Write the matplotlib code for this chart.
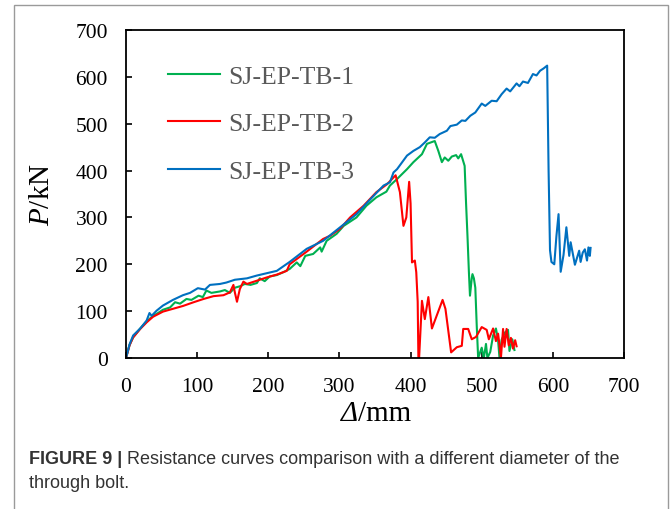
import matplotlib
matplotlib.use("Agg")
import matplotlib.pyplot as plt
from matplotlib.patches import Rectangle

# ===========================
# Data
# ===========================
SERIES_NAMES = ["SJ-EP-TB-1", "SJ-EP-TB-2", "SJ-EP-TB-3"]
SERIES_COLORS = ["#00B050", "#FF0000", "#0070C0"]

d_tb1 = [0, 5, 10, 20, 29, 38, 45, 52, 62, 69, 76, 85, 92, 102, 108, 113, 120, 132,
         139, 146, 153, 160, 167, 175, 184, 188, 195, 202, 212, 221, 230, 240, 245,
         252, 263, 273, 275, 282, 296, 306, 324, 338, 352, 366, 371, 381, 395, 404,
         416, 423, 432, 434, 439, 444, 448, 453, 458, 464, 467, 471, 473, 476, 478,
         480, 482, 483.5, 486, 487, 489, 491, 493, 495, 500, 503, 506, 508, 512, 516,
         520, 523, 525, 528, 533, 537, 539, 543, 546]
p_tb1 = [0, 28, 44, 63, 78, 90, 96, 103, 108, 119, 116, 126, 124, 133, 130, 144, 139, 142,
         145, 139, 150, 153, 158, 156, 160, 170, 164, 174, 177, 183, 190, 204, 196,
         218, 222, 236, 227, 250, 265, 282, 300, 325, 343, 355, 368, 382, 403, 418,
         435, 457, 462, 463, 442, 418, 428, 421, 430, 433, 426, 435, 425, 410, 330,
         260, 183, 133, 170, 179, 170, 150, 69, 0, 22, 0, 30, 0, 13, 48,
         63, 38, 0, 39, 55, 60, 15, 40, 17]

d_tb2 = [0, 5, 10, 20, 29, 38, 52, 66, 80, 95, 109, 123, 137, 146, 151, 153, 156, 160,
         165, 170, 184, 198, 212, 226, 230, 254, 277, 287, 301, 315, 334, 352, 367,
         379, 385, 390, 394, 398, 400, 402, 406, 408, 410, 411, 412, 416, 420, 425,
         430, 445, 449, 457, 465, 472, 474, 481, 486, 492, 500, 507, 510, 516, 520,
         523, 525, 527, 530, 532, 535, 538, 541, 544, 547, 549]
p_tb2 = [0, 27, 44, 62, 76, 88, 99, 105, 111, 119, 126, 132, 134, 140, 156, 140, 120, 147,
         163, 158, 165, 172, 178, 186, 200, 227, 254, 261, 276, 300, 325, 354, 371,
         390, 354, 282, 300, 376, 330, 204, 208, 183, 120, 0, 0, 122, 83, 130,
         63, 124, 105, 12, 23, 26, 62, 62, 40, 45, 66, 60, 40, 63, 36,
         52, 28, 0, 62, 24, 62, 27, 43, 20, 38, 25]

d_tb3 = [0, 5, 10, 20, 29, 33, 36, 43, 52, 66, 80, 90, 101, 111, 118, 132, 141, 153,
         170, 184, 198, 212, 230, 254, 277, 301, 324, 343, 362, 371, 376, 381, 395,
         404, 413, 420, 427, 434, 441, 451, 456, 465, 472, 477, 484, 491, 500, 505,
         514, 521, 528, 535, 540, 549, 553, 558, 565, 572, 577, 582, 587, 592, 594,
         596, 598, 602, 605, 608, 611, 615, 619, 623, 625, 631, 637, 639, 642, 645,
         648, 650, 652, 653]
p_tb3 = [0, 29, 48, 63, 80, 96, 90, 101, 112, 124, 134, 139, 149, 146, 156, 158, 161, 167,
         170, 176, 181, 186, 205, 233, 250, 279, 307, 338, 368, 375, 396, 403, 432,
         442, 450, 460, 471, 470, 478, 485, 495, 498, 507, 506, 517, 524, 543, 538,
         549, 548, 563, 575, 569, 586, 580, 590, 587, 606, 603, 613, 618, 624, 400,
         230, 205, 200, 260, 307, 184, 220, 279, 218, 247, 199, 229, 205, 225, 232,
         208, 236, 218, 235]

X_TICKS = [0, 100, 200, 300, 400, 500, 600, 700]
Y_TICKS = [0, 100, 200, 300, 400, 500, 600, 700]

X_LABEL_SYMBOL, X_LABEL_UNIT = "Δ", "/mm"
CAPTION_BOLD = "FIGURE 9 |"
CAPTION_TEXT = " Resistance curves comparison with a different diameter of the"
CAPTION_TEXT2 = "through bolt."

# ===========================
# Style
# ===========================
plt.rcParams["font.family"] = ["Liberation Serif", "DejaVu Serif"]
plt.rcParams["mathtext.fontset"] = "custom"
plt.rcParams["mathtext.rm"] = "Liberation Serif"
plt.rcParams["mathtext.it"] = "Liberation Serif:italic"

SANS = ["Liberation Sans", "DejaVu Sans"]
W, H = 672, 510
fig = plt.figure(figsize=(W / 100, H / 100), dpi=100)

# grey frame round the whole figure (open at the bottom edge)
fig.patches.append(Rectangle((14 / W, -0.05), (668 - 14) / W, 1.05 - 6 / H,
                             transform=fig.transFigure, fill=False,
                             edgecolor="#9a9a9a", linewidth=1.0))

ax = fig.add_axes([126 / W, 1 - 359 / H, (624 - 126) / W, (359 - 31) / H])

for d, p, name, color in zip([d_tb1, d_tb2, d_tb3], [p_tb1, p_tb2, p_tb3],
                             SERIES_NAMES, SERIES_COLORS):
    ax.plot(d, p, color=color, linewidth=1.5, label=name)

ax.set_xlim(0, 700)
ax.set_ylim(0, 700)
ax.set_xticks(X_TICKS)
ax.set_yticks(Y_TICKS)
ax.tick_params(direction="in", length=4.5, width=1.2, labelsize=15.5,
               colors="black")
ax.tick_params(axis="y", pad=13)
ax.tick_params(axis="x", pad=14)
for s in ax.spines.values():
    s.set_linewidth(1.3)
    s.set_color("black")

# x label: italic delta followed by upright unit
sym = fig.text(341 / W, 1 - 421 / H, X_LABEL_SYMBOL, fontsize=21, style="italic",
               va="baseline", ha="left")
ax.annotate(X_LABEL_UNIT, xy=(1, 0), xycoords=sym, fontsize=21,
            va="bottom", ha="left", annotation_clip=False)
ax.set_ylabel(r"$P$/kN", fontsize=21, labelpad=15)

leg = ax.legend(loc="upper left", bbox_to_anchor=(0.063, 0.925), frameon=False,
                fontsize=18.5, handlelength=2.05, handletextpad=0.3,
                labelspacing=0.95, borderaxespad=0)
for t in leg.get_texts():
    t.set_color("#595959")

# caption: bold label followed by regular text
cap = fig.text(29 / W, 1 - 464 / H, CAPTION_BOLD, fontsize=13, fontweight="bold",
               family=SANS, color="#333333", va="baseline")
ax.annotate(CAPTION_TEXT, xy=(1, 0), xycoords=cap, fontsize=13,
            family=SANS, color="#333333",
            va="bottom", ha="left", annotation_clip=False)
fig.text(29 / W, 1 - 488 / H, CAPTION_TEXT2, fontsize=13,
         family=SANS, color="#333333", va="baseline")

fig.savefig("out.png", dpi=100)
